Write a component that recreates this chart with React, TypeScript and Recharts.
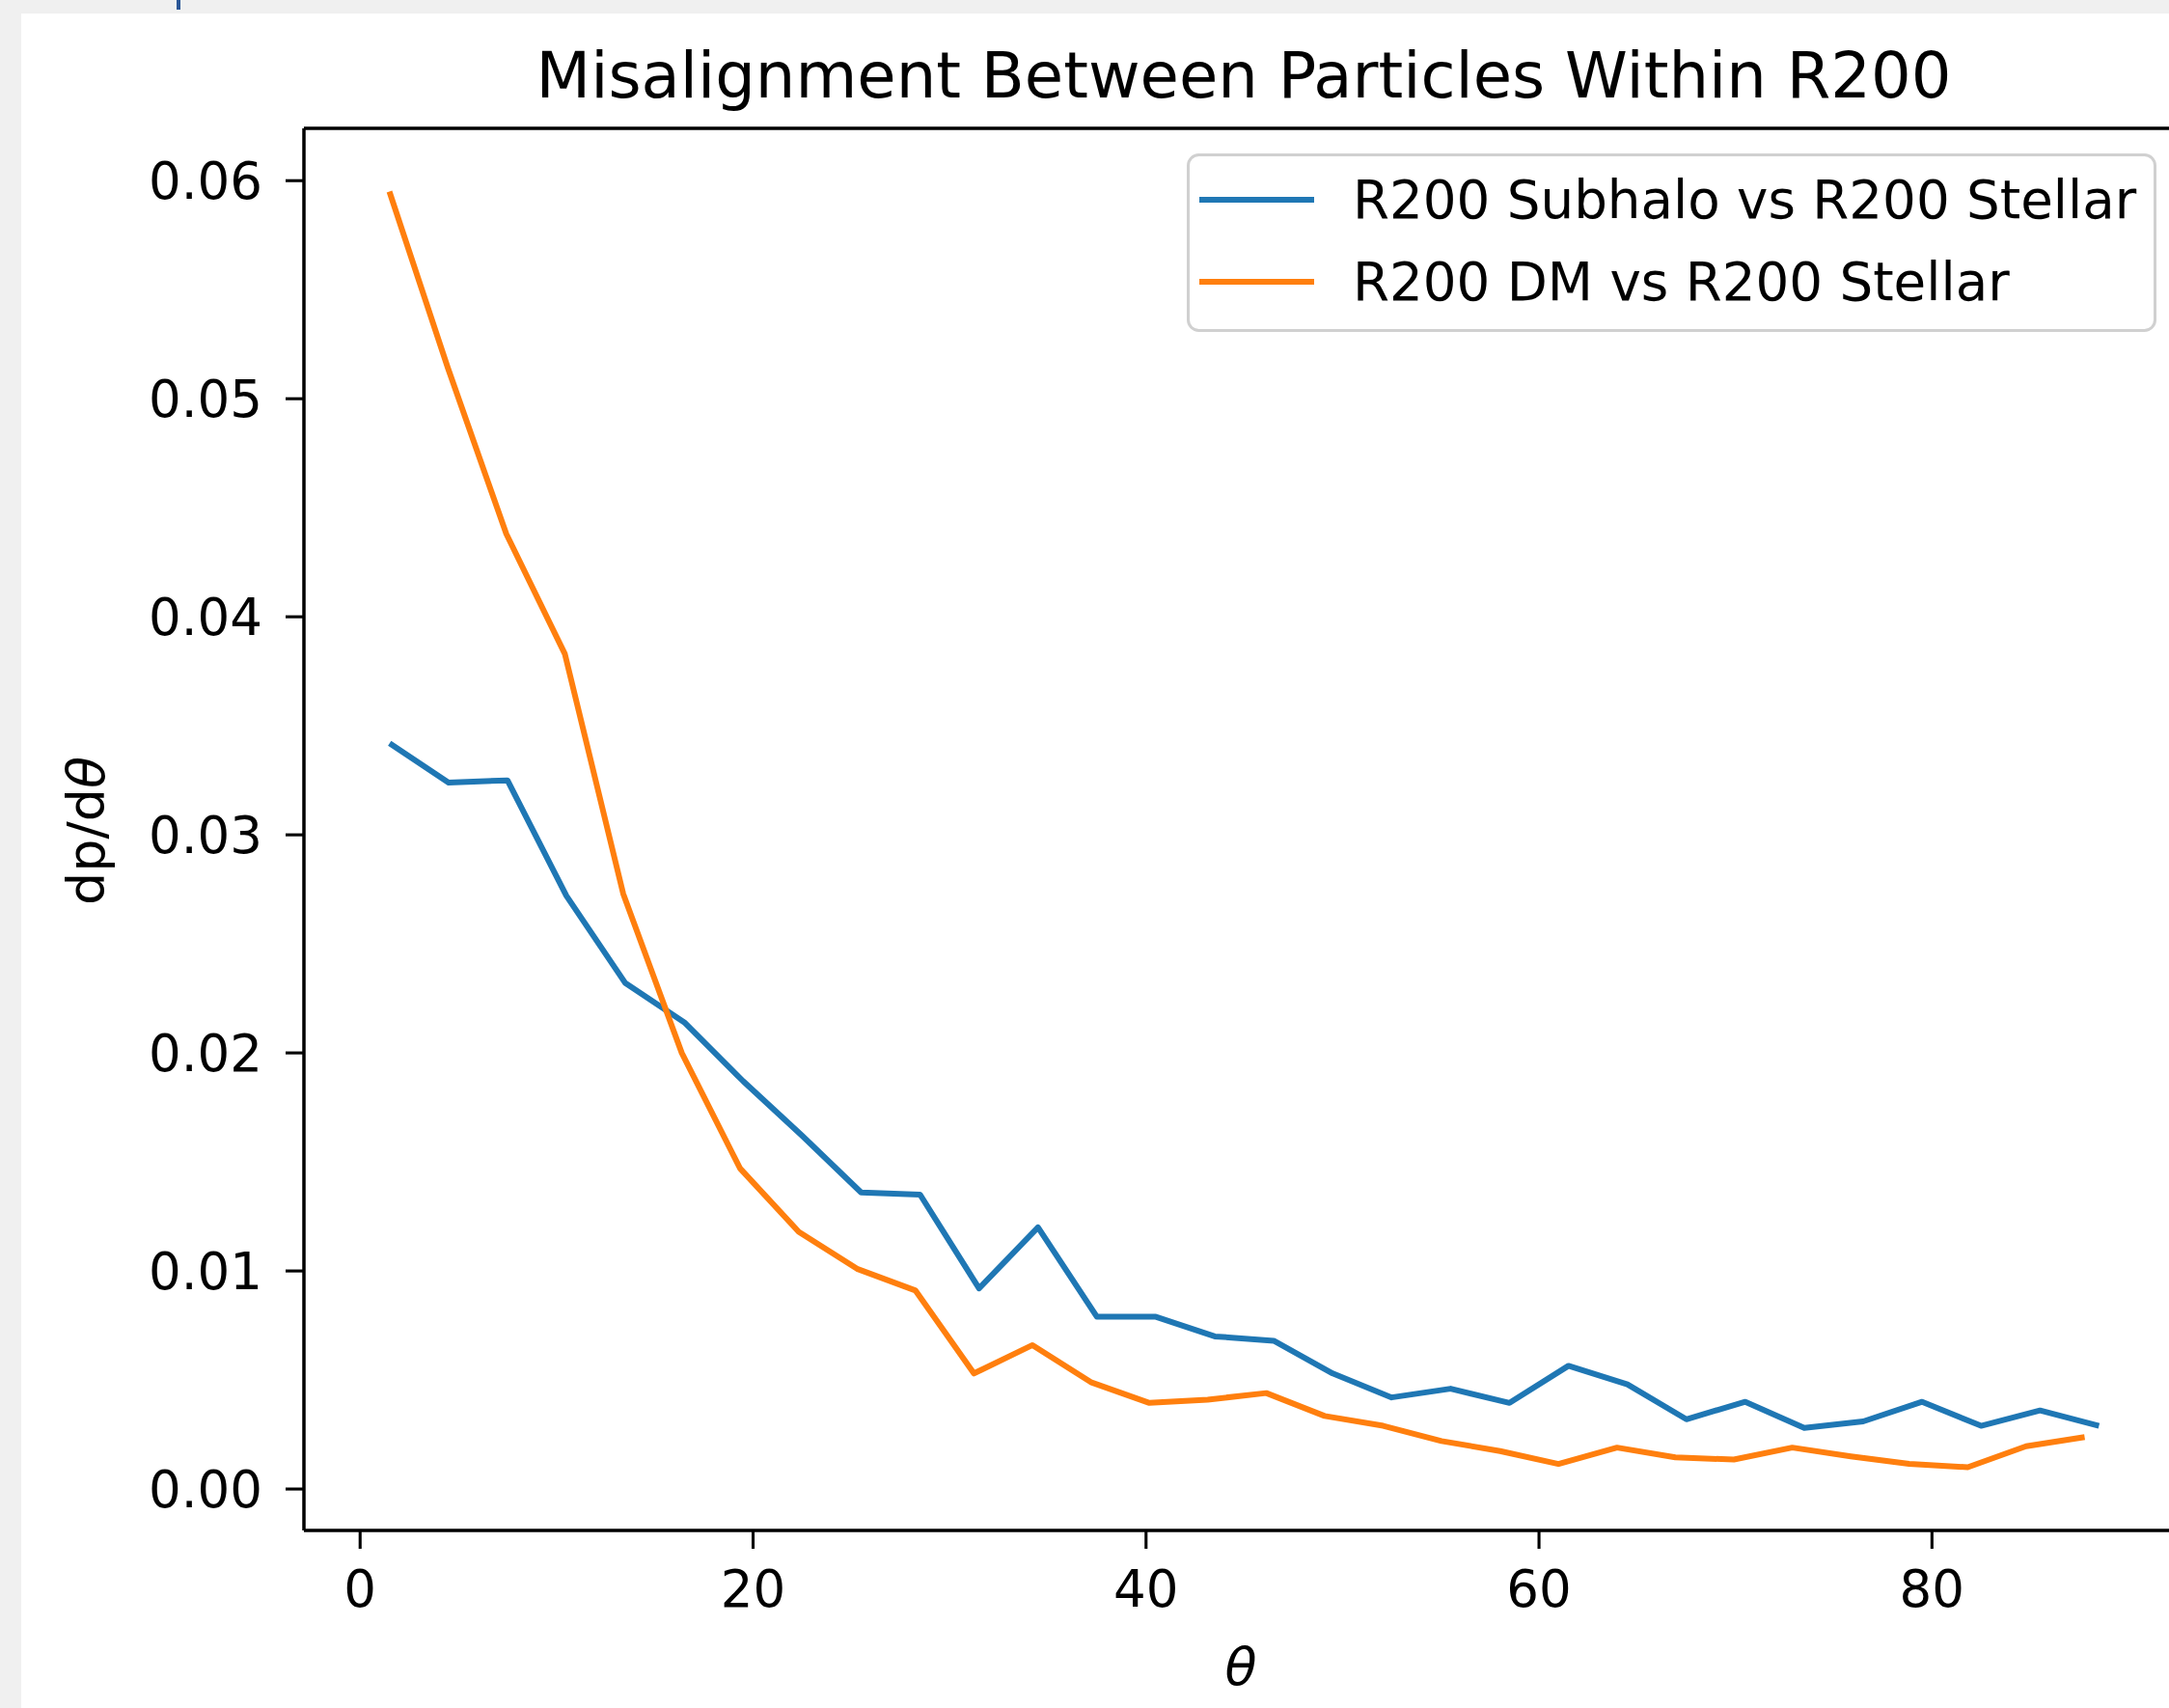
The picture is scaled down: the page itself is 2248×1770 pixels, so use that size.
import React from "react";
import { LineChart, Line, XAxis, YAxis, ReferenceLine, Legend } from "recharts";

// Bin centres (degrees) and dp/dθ values
const thetaSubhalo = [
  1.5, 4.5, 7.5, 10.5, 13.5, 16.5, 19.5, 22.5, 25.5, 28.5,
  31.5, 34.5, 37.5, 40.5, 43.5, 46.5, 49.5, 52.5, 55.5, 58.5,
  61.5, 64.5, 67.5, 70.5, 73.5, 76.5, 79.5, 82.5, 85.5, 88.5,
];
const subhaloVsStellar = [
  0.0342, 0.0324, 0.0325, 0.0272, 0.0232, 0.0214, 0.0187, 0.0162, 0.0136, 0.0135,
  0.0092, 0.012, 0.0079, 0.0079, 0.007, 0.0068, 0.0053, 0.0042, 0.0046, 0.00395,
  0.00565, 0.0048, 0.0032, 0.004, 0.0028, 0.0031, 0.004, 0.0029, 0.0036, 0.0029,
];
const thetaDM = [
  1.49, 4.47, 7.44, 10.42, 13.39, 16.37, 19.34, 22.32, 25.29, 28.27,
  31.24, 34.22, 37.19, 40.17, 43.14, 46.12, 49.09, 52.07, 55.04, 58.02,
  60.99, 63.97, 66.94, 69.92, 72.89, 75.87, 78.84, 81.82, 84.79, 87.77,
];
const dmVsStellar = [
  0.0595, 0.0514, 0.0438, 0.0383, 0.0273, 0.02, 0.0147, 0.0118, 0.0101, 0.0091,
  0.0053, 0.0066, 0.0049, 0.00395, 0.0041, 0.0044, 0.00335, 0.0029, 0.0022, 0.00174,
  0.00115, 0.0019, 0.00145, 0.00135, 0.0019, 0.0015, 0.00115, 0.001, 0.00196, 0.00238,
];
const xTicks = [0, 20, 40, 60, 80];
const yTicks = [0, 0.01, 0.02, 0.03, 0.04, 0.05, 0.06];
const seriesNames = ["R200 Subhalo vs R200 Stellar", "R200 DM vs R200 Stellar"];
const titleText = "Misalignment Between Particles Within R200";

const BLUE = "#1f77b4";
const ORANGE = "#ff7f0e";
const FONT = "'DejaVu Sans', sans-serif";

const subhaloData = thetaSubhalo.map((x, i) => ({ x, y: subhaloVsStellar[i] }));
const dmData = thetaDM.map((x, i) => ({ x, y: dmVsStellar[i] }));

const LegendBox = () => (
  <svg width={1006} height={186} style={{ display: "block" }}>
    <rect x={1.5} y={1.5} width={1002} height={182} rx={11} ry={11}
      fill="#ffffff" fillOpacity={0.8} stroke="#d0d0d0" strokeWidth={3} />
    <line x1={13} x2={132} y1={48} y2={48} stroke={BLUE} strokeWidth={6} />
    <text x={172} y={67} fontSize={54.7} fontFamily={FONT} fill="#000">{seriesNames[0]}</text>
    <line x1={13} x2={132} y1={133} y2={133} stroke={ORANGE} strokeWidth={6} />
    <text x={172} y={152} fontSize={54.7} fontFamily={FONT} fill="#000">{seriesNames[1]}</text>
  </svg>
);

export default function App() {
  return (
    <div style={{ position: "absolute", left: 0, top: 0, width: 2248, height: 1770, overflow: "hidden", background: "#f0f0f0" }}>
      <div style={{ position: "absolute", left: 183, top: 0, width: 4, height: 10, background: "#2b5797" }} />
      <div style={{ position: "absolute", left: 22, top: 14, right: 0, bottom: 0, background: "#ffffff" }} />
      <div style={{ position: "absolute", left: 0, top: 0 }}>
        <LineChart width={2300} height={1770} margin={{ top: 133, right: 36, bottom: 0, left: 0 }}>
          <XAxis type="number" dataKey="x" domain={[-2.86, 92.85]} ticks={xTicks} allowDataOverflow
            height={184} tickSize={19} tickMargin={22}
            tick={{ fill: "#000", fontSize: 53, fontFamily: FONT }}
            tickLine={{ stroke: "#000", strokeWidth: 3.1 }}
            axisLine={{ stroke: "#000", strokeWidth: 3.5 }} />
          <YAxis type="number" domain={[-0.0019, 0.0624]} ticks={yTicks} allowDataOverflow
            width={315} tickSize={19} tickMargin={24}
            tickFormatter={(v: number) => v.toFixed(2)}
            tick={{ fill: "#000", fontSize: 53, fontFamily: FONT }}
            tickLine={{ stroke: "#000", strokeWidth: 3.1 }}
            axisLine={{ stroke: "#000", strokeWidth: 3.5 }} />
          <ReferenceLine y={0.0624} stroke="#000" strokeWidth={3.5} />
          <Line data={subhaloData} dataKey="y" name={seriesNames[0]} type="linear" stroke={BLUE}
            strokeWidth={6} dot={false} activeDot={false} isAnimationActive={false}
            strokeLinejoin="round" />
          <Line data={dmData} dataKey="y" name={seriesNames[1]} type="linear" stroke={ORANGE}
            strokeWidth={6} dot={false} activeDot={false} isAnimationActive={false}
            strokeLinejoin="round" />
          <Legend layout="vertical" align="center" verticalAlign="middle"
            content={() => <LegendBox />}
            wrapperStyle={{ position: "absolute", left: 1230, top: 159, width: 1006, height: 186 }} />
        </LineChart>
      </div>
      <svg width={2248} height={1770} style={{ position: "absolute", left: 0, top: 0, pointerEvents: "none" }}>
        <text x={1289} y={101} textAnchor="middle" fontSize={65.6} fontFamily={FONT} fill="#000">{titleText}</text>
        <text x={1286} y={1746} textAnchor="middle" fontSize={54} fontFamily={FONT} fontStyle="italic" fill="#000">θ</text>
        <text transform="translate(108,861) rotate(-90)" textAnchor="middle" fontSize={54} fontFamily={FONT} fill="#000">
          dp/d<tspan fontStyle="italic">θ</tspan>
        </text>
      </svg>
    </div>
  );
}
